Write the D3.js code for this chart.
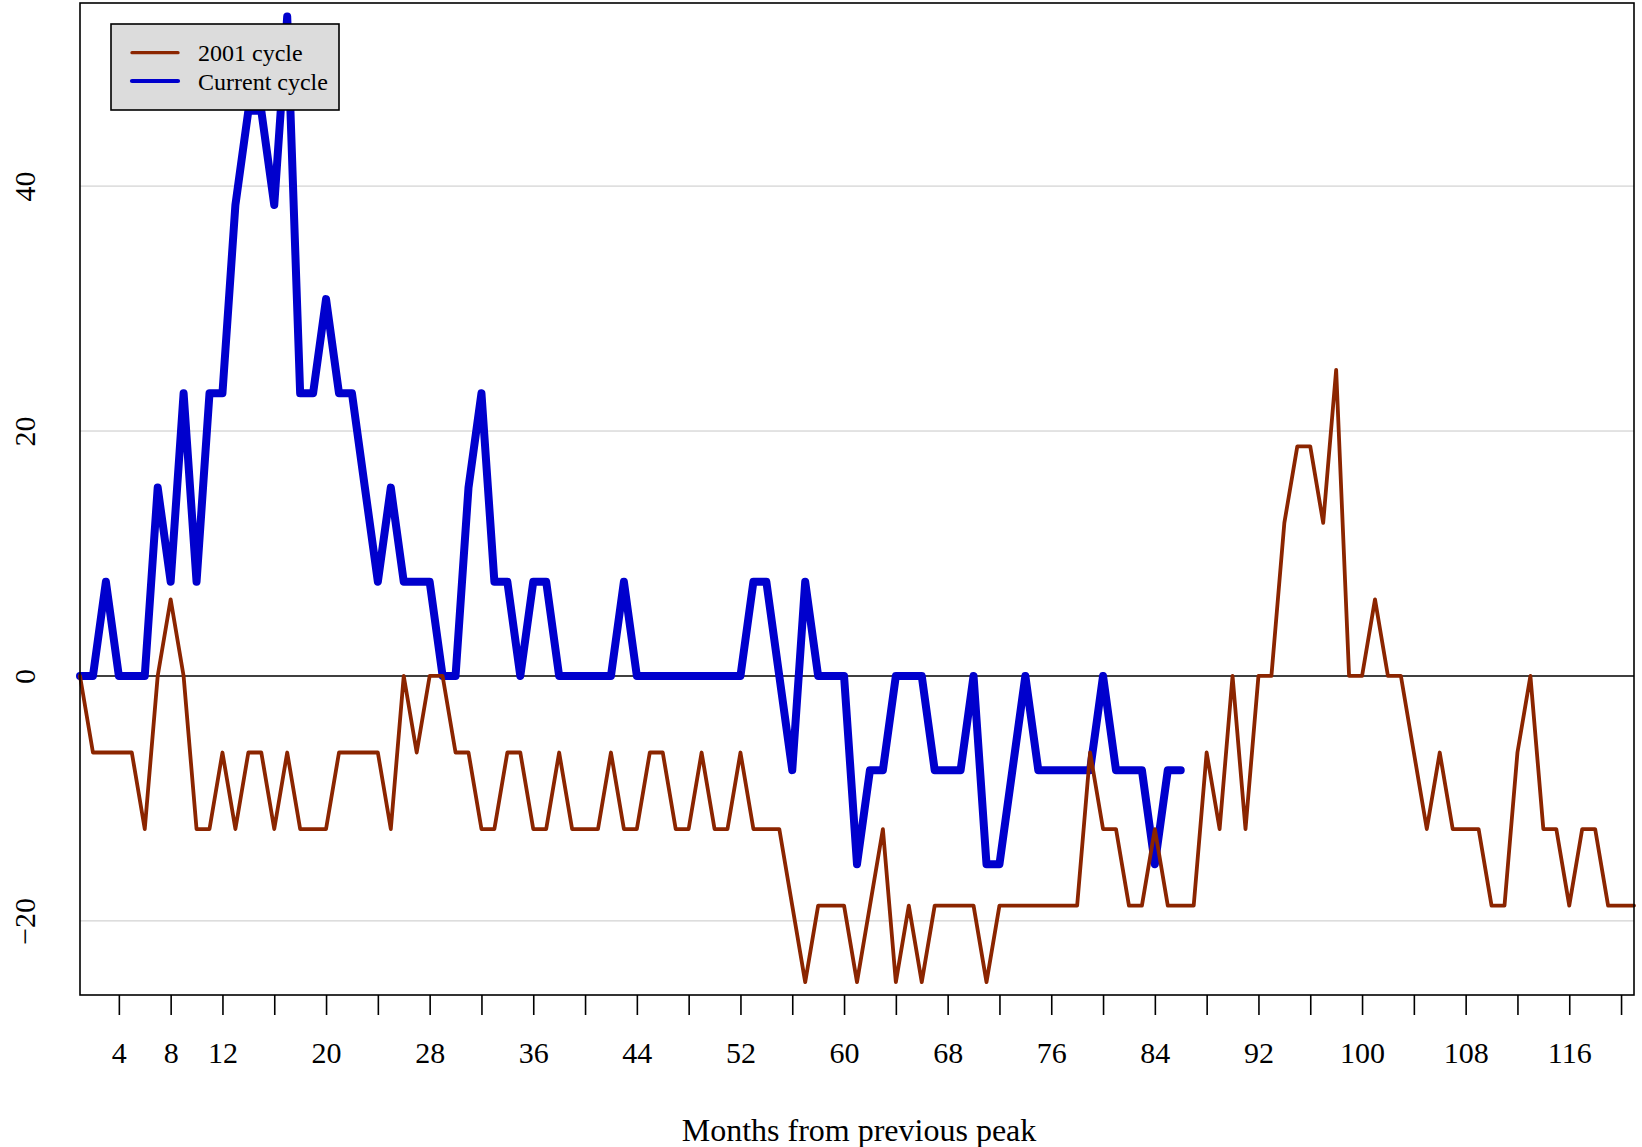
<!DOCTYPE html>
<html>
<head>
<meta charset="utf-8">
<script src="https://cdn.jsdelivr.net/npm/d3@7"></script>
<style>
  html, body { margin: 0; padding: 0; background: #ffffff; }
  svg { display: block; }
  svg text { font-family: 'Liberation Serif','Times New Roman',Times,serif; }
</style>
</head>
<body>
<svg id="chart" width="1642" height="1147"></svg>
<script>
// ---- Data (percent change) ----
const cycle2001 = [0,-6.25,-6.25,-6.25,-6.25,-12.5,0,6.25,0,-12.5,
 -12.5,-6.25,-12.5,-6.25,-6.25,-12.5,-6.25,-12.5,-12.5,-12.5,
 -6.25,-6.25,-6.25,-6.25,-12.5,0,-6.25,0,0,-6.25,
 -6.25,-12.5,-12.5,-6.25,-6.25,-12.5,-12.5,-6.25,-12.5,-12.5,
 -12.5,-6.25,-12.5,-12.5,-6.25,-6.25,-12.5,-12.5,-6.25,-12.5,
 -12.5,-6.25,-12.5,-12.5,-12.5,-18.75,-25,-18.75,-18.75,-18.75,
 -25,-18.75,-12.5,-25,-18.75,-25,-18.75,-18.75,-18.75,-18.75,
 -25,-18.75,-18.75,-18.75,-18.75,-18.75,-18.75,-18.75,-6.25,-12.5,
 -12.5,-18.75,-18.75,-12.5,-18.75,-18.75,-18.75,-6.25,-12.5,0,
 -12.5,0,0,12.5,18.75,18.75,12.5,25,0,0,
 6.25,0,0,-6.25,-12.5,-6.25,-12.5,-12.5,-12.5,-18.75,
 -18.75,-6.25,0,-12.5,-12.5,-18.75,-12.5,-12.5,-18.75,-18.75,-18.75];

const currentCycle = [0,0,7.69,0,0,0,15.38,7.69,23.08,7.69,
 23.08,23.08,38.46,46.15,46.15,38.46,53.85,23.08,23.08,30.77,
 23.08,23.08,15.38,7.69,15.38,7.69,7.69,7.69,0,0,
 15.38,23.08,7.69,7.69,0,7.69,7.69,0,0,0,
 0,0,7.69,0,0,0,0,0,0,0,
 0,0,7.69,7.69,0,-7.69,7.69,0,0,0,
 -15.38,-7.69,-7.69,0,0,0,-7.69,-7.69,-7.69,0,
 -15.38,-15.38,-7.69,0,-7.69,-7.69,-7.69,-7.69,-7.69,0,
 -7.69,-7.69,-7.69,-15.38,-7.69,-7.69];

const xTicks = [4,8,12,16,20,24,28,32,36,40,44,48,52,56,60,64,68,72,76,80,84,88,92,96,100,104,108,112,116,120];
const xTickLabels = [4,8,12,20,28,36,44,52,60,68,76,84,92,100,108,116];
const yTicks = [-20,0,20,40];
const gridValues = [-20,20,40];
const seriesNames = ["2001 cycle","Current cycle"];
const xTitle = "Months from previous peak";

// ---- Layout ----
const svg = d3.select("#chart");
const M = {left: 80, right: 1634, top: 3, bottom: 995};
const FONT = "'Liberation Serif','Times New Roman',Times,serif";
const colBrown = "#8B2500", colBlue = "#0000CD";

const x = d3.scaleLinear().domain([1, 121]).range([M.left, M.right]);
const y = d3.scaleLinear().domain([-26.05, 54.95]).range([M.bottom, M.top]);

// grid lines
svg.append("g").selectAll("line").data(gridValues).join("line")
  .attr("x1", M.left).attr("x2", M.right)
  .attr("y1", d => y(d)).attr("y2", d => y(d))
  .attr("stroke", "#c8c8c8").attr("stroke-width", 1);

// zero line
svg.append("line")
  .attr("x1", M.left).attr("x2", M.right)
  .attr("y1", y(0)).attr("y2", y(0))
  .attr("stroke", "#000").attr("stroke-width", 1.5);

const line = d3.line().x((d, i) => x(i + 1)).y(d => y(d));

svg.append("path").datum(currentCycle)
  .attr("d", line).attr("fill", "none")
  .attr("stroke", colBlue).attr("stroke-width", 8)
  .attr("stroke-linejoin", "round").attr("stroke-linecap", "round");

svg.append("path").datum(cycle2001)
  .attr("d", line).attr("fill", "none")
  .attr("stroke", colBrown).attr("stroke-width", 3.8)
  .attr("stroke-linejoin", "round").attr("stroke-linecap", "round");

// plot box
svg.append("rect")
  .attr("x", M.left).attr("y", M.top).attr("width", M.right - M.left).attr("height", M.bottom - M.top)
  .attr("fill", "none").attr("stroke", "#000").attr("stroke-width", 1.6);

// x axis
const xAxis = d3.axisBottom(x).tickValues(xTicks).tickSize(20).tickSizeOuter(0)
  .tickFormat(d => xTickLabels.includes(d) ? String(d) : "");
const gx = svg.append("g").attr("transform", `translate(0,${M.bottom})`).call(xAxis)
  .attr("font-family", FONT).attr("font-size", 30);
gx.select(".domain").remove();
gx.selectAll(".tick line").attr("stroke", "#000").attr("stroke-width", 1.6);
gx.selectAll(".tick text").attr("y", 68).attr("dy", 0)
  .attr("font-family", FONT).attr("font-size", 30).attr("fill", "#000");

// y axis labels (no tick marks), rotated
const yAxis = d3.axisLeft(y).tickValues(yTicks).tickSize(0)
  .tickFormat(d => d < 0 ? "\u2212" + Math.abs(d) : String(d));
const gy = svg.append("g").attr("transform", `translate(${M.left},0)`).call(yAxis)
  .attr("font-family", FONT).attr("font-size", 30);
gy.select(".domain").remove();
gy.selectAll(".tick text")
  .attr("x", 0).attr("dy", 0)
  .attr("transform", `translate(${35 - M.left},0) rotate(-90)`)
  .attr("text-anchor", "middle")
  .attr("font-family", FONT).attr("font-size", 30).attr("fill", "#000");

// x title
svg.append("text")
  .attr("x", (M.left + M.right) / 2 + 2).attr("y", 1141)
  .attr("text-anchor", "middle")
  .attr("font-family", FONT).attr("font-size", 32).attr("fill", "#000")
  .text(xTitle);

// legend
const lg = svg.append("g");
lg.append("rect").attr("x", 111).attr("y", 24).attr("width", 228).attr("height", 86)
  .attr("fill", "#dcdcdc").attr("stroke", "#000").attr("stroke-width", 1.6);
const legendItems = [
  {name: seriesNames[0], color: colBrown, w: 3.3, yy: 52.7},
  {name: seriesNames[1], color: colBlue, w: 4.2, yy: 81}
];
legendItems.forEach(it => {
  lg.append("line").attr("x1", 132).attr("x2", 178).attr("y1", it.yy).attr("y2", it.yy)
    .attr("stroke", it.color).attr("stroke-width", it.w).attr("stroke-linecap", "round");
  lg.append("text").attr("x", 198).attr("y", it.yy + 8.5)
    .attr("font-family", FONT).attr("font-size", 24).attr("fill", "#000")
    .text(it.name);
});
</script>
</body>
</html>
